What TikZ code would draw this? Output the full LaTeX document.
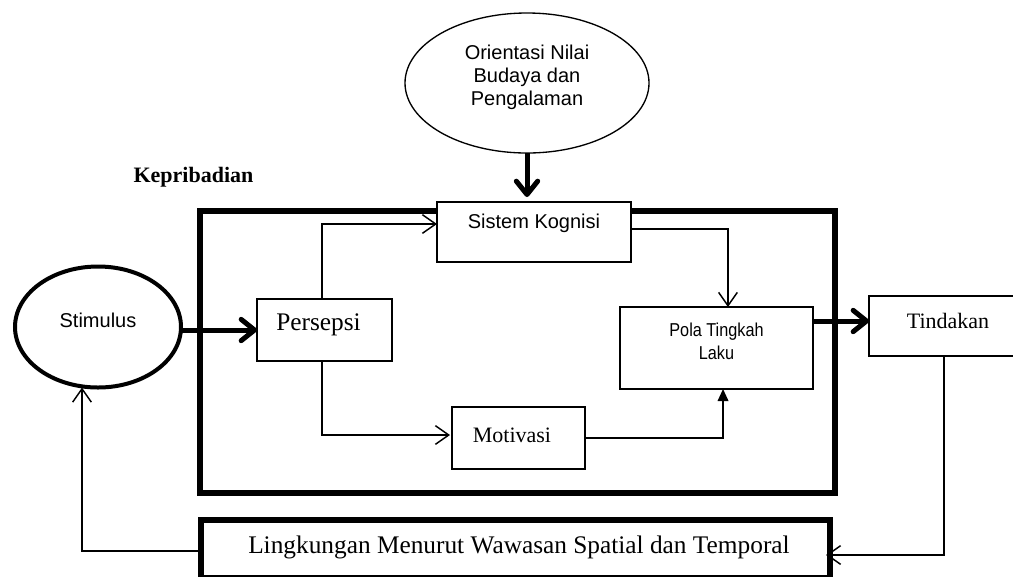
\documentclass[tikz,border=0pt]{standalone}
\usepackage{fontspec}
\setmainfont{Liberation Serif}
\newfontfamily\sansf{Liberation Sans}
\newfontfamily\narrowf[FakeStretch=0.87]{Liberation Sans}
\usetikzlibrary{shapes.geometric,arrows.meta}

\begin{document}
\begin{tikzpicture}[x=0.75pt,y=-0.75pt,
  box/.style={draw, fill=white, line width=1pt, inner sep=0pt, outer sep=0pt},
  thickbox/.style={draw, fill=white, line width=4.5pt, inner sep=0pt, outer sep=0pt},
  flow/.style={line width=1.1pt, -{Straight Barb[length=10pt,width=14pt]}},
  bigflow/.style={line width=3.75pt, -{Straight Barb[length=10pt,width=16pt,round]}},
  sanslabel/.style={font=\sansf\fontsize{15}{17.25}\selectfont, align=center, inner sep=0pt},
  narrowlabel/.style={font=\narrowf\fontsize{14}{17.25}\selectfont, align=center, inner sep=0pt},
  seriflabel/.style={font=\fontsize{16.5}{19}\selectfont, inner sep=0pt},
  seriflarge/.style={font=\fontsize{19}{22}\selectfont, inner sep=0pt},
]
\useasboundingbox (0,0) rectangle (1013,576);

% personality frame and its title
\node[draw, line width=4.5pt, inner sep=0pt, outer sep=0pt,
      minimum width=476.25pt, minimum height=211.5pt] (kep) at (517.5,352) {};
\node[font=\bfseries\fontsize{16.5}{19}\selectfont, inner sep=0pt] (keptitle) at (193.5,177) {Kepribadian};

% ellipses
\node[ellipse, draw, fill=white, line width=1pt, inner sep=0pt, outer sep=0pt,
      minimum width=183pt, minimum height=105pt,
      label={[sanslabel, yshift=4.5pt]center:Orientasi Nilai\\Budaya dan\\Pengalaman}] (orient) at (527,83) {};
\node[ellipse, draw, fill=white, line width=3pt, inner sep=0pt, outer sep=0pt,
      minimum width=124.5pt, minimum height=90.75pt,
      label={[sanslabel, yshift=5pt]center:Stimulus}] (stim) at (98,327) {};

% boxes
\node[box, minimum width=145.5pt, minimum height=45pt,
      label={[sanslabel, yshift=6.75pt]center:Sistem Kognisi}] (sistem) at (534,232) {};
\node[box, minimum width=101.25pt, minimum height=46.5pt,
      label={[seriflarge, xshift=-4.5pt, yshift=3.75pt]center:Persepsi}] (persepsi) at (324.5,330) {};
\node[box, minimum width=99.75pt, minimum height=46.5pt,
      label={[seriflabel, xshift=-4.9pt, yshift=2.25pt]center:Motivasi}] (motivasi) at (518.5,438) {};
\node[box, minimum width=144.75pt, minimum height=61.5pt,
      label={[narrowlabel, yshift=4.9pt]center:Pola Tingkah\\Laku}] (pola) at (716.5,348) {};
\node[box, minimum width=118.5pt, minimum height=45pt,
      label={[seriflabel, yshift=3.75pt]center:Tindakan}] (tindakan) at (948,326) {};
\node[thickbox, minimum width=471.75pt, minimum height=43.5pt,
      label={[seriflarge, xshift=2.6pt, yshift=1pt]center:Lingkungan Menurut Wawasan Spatial dan Temporal}] (lingk) at (515.5,549) {};

% heavy connectors
\draw[bigflow, shorten >=3.75pt] (orient.south) -- (orient.south |- sistem.north);
\draw[bigflow] (stim.east |- persepsi.west) -- (persepsi.west);
\draw[bigflow] ([yshift=20.25pt]pola.east) -- ([yshift=20.25pt]pola.east -| tindakan.west);

% light connectors
\draw[flow] ([xshift=-1.9pt]persepsi.north) |- ([yshift=6pt]sistem.west);
\draw[flow, shorten >=1.5pt] ([xshift=-1.9pt]persepsi.south) |- ([yshift=2.25pt]motivasi.west);
\draw[flow] ([yshift=2.25pt]sistem.east) -| ([xshift=8.6pt]pola.north);
\draw[line width=1.1pt, -{Triangle[length=9pt,width=8pt]}] (motivasi.east) -| ([xshift=4.9pt]pola.south);
\draw[flow, shorten >=-3pt] ([xshift=-3pt]tindakan.south) |- ([yshift=-4.5pt]lingk.east);
\draw[flow] ([yshift=-1.5pt]lingk.west) -| ([xshift=-12pt]stim.south);
\end{tikzpicture}
\end{document}
